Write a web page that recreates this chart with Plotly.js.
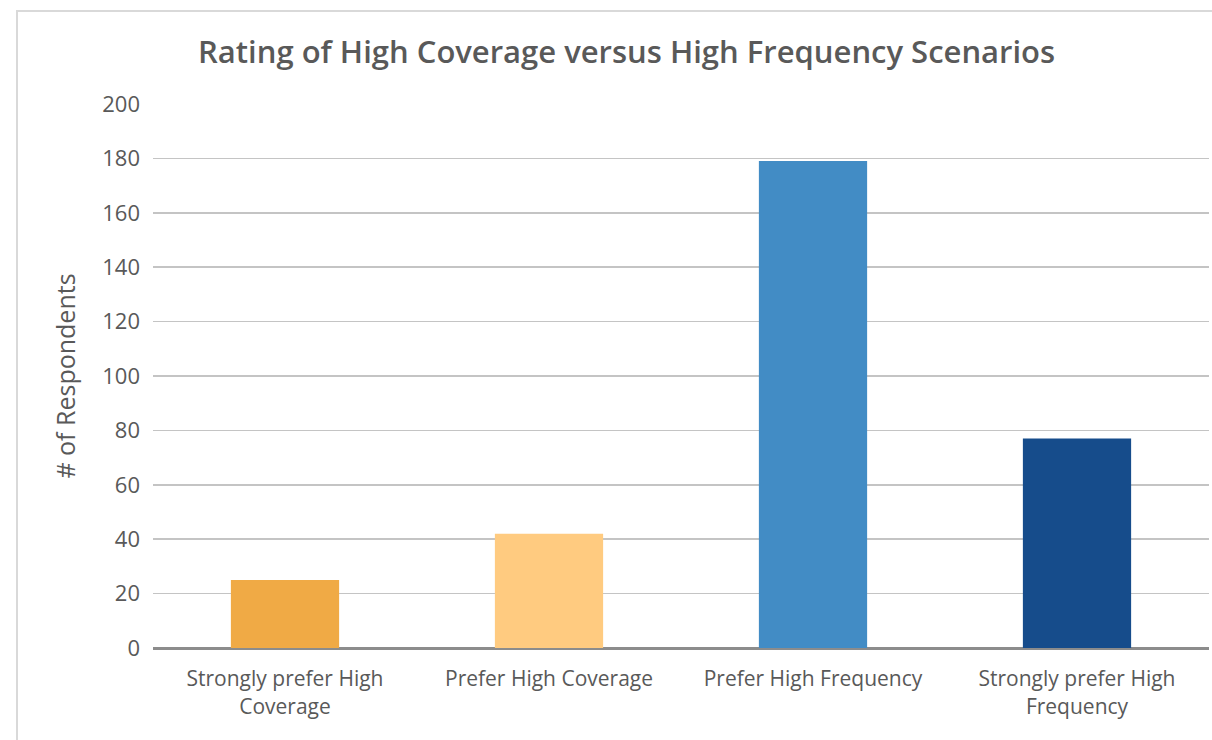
<!DOCTYPE html>
<html>
<head>
<meta charset="utf-8">
<script src="https://cdn.plot.ly/plotly-3.0.1.min.js"></script>
<style>
  html, body { margin: 0; padding: 0; overflow: hidden; background: #ffffff; }
  #chart { position: absolute; left: 0; top: 0; width: 1212px; height: 740px; }
  #frame { position: absolute; left: 16px; top: 10px; width: 1400px; height: 900px;
           border: 2px solid #d9d9d9; pointer-events: none; }
</style>
</head>
<body>
<div id="chart"></div>
<div id="frame"></div>
<script>
const categories = [
  "Strongly prefer High Coverage",
  "Prefer High Coverage",
  "Prefer High Frequency",
  "Strongly prefer High Frequency"
];
const tickLabels = [
  "Strongly prefer High<br>Coverage",
  "Prefer High Coverage",
  "Prefer High Frequency",
  "Strongly prefer High<br>Frequency"
];
const respondents = [25, 42, 179, 77];
const barColors = ["#F0AA45", "#FFCB80", "#428CC5", "#164C8B"];
const chartTitle = "Rating of High Coverage versus High Frequency Scenarios";
const yTitle = "# of Respondents";

const font = "'Open Sans', Lato, sans-serif";

const trace = {
  type: "bar",
  x: categories,
  y: respondents,
  marker: { color: barColors, line: { width: 0 } },
  hoverinfo: "x+y"
};

const layout = {
  width: 1212,
  height: 740,
  margin: { l: 153, r: 3, t: 104, b: 92, pad: 0 },
  paper_bgcolor: "rgba(0,0,0,0)",
  plot_bgcolor: "#ffffff",
  bargap: 0.59,
  showlegend: false,
  title: {
    text: chartTitle,
    font: { family: font, size: 31, color: "#595959", weight: 600 },
    x: 0.517, xanchor: "center", xref: "container",
    y: 0.93, yanchor: "middle", yref: "container"
  },
  xaxis: {
    tickmode: "array",
    tickvals: categories,
    ticktext: tickLabels,
    tickfont: { family: font, size: 21, color: "#595959" },
    ticks: "",
    ticklabelstandoff: 11,
    showline: true,
    linecolor: "#8c8c8c",
    linewidth: 2,
    showgrid: false,
    zeroline: false,
    fixedrange: true
  },
  yaxis: {
    range: [0, 200],
    dtick: 20,
    tick0: 0,
    tickfont: { family: font, size: 22, color: "#595959" },
    ticks: "",
    ticklabelstandoff: 12,
    showgrid: true,
    gridcolor: "#c4c4c4",
    gridwidth: 1.6,
    zeroline: true,
    zerolinecolor: "#8c8c8c",
    zerolinewidth: 2,
    showline: false,
    automargin: true,
    title: {
      text: yTitle,
      font: { family: font, size: 25, color: "#595959" },
      standoff: 19
    },
    fixedrange: true
  }
};

Plotly.newPlot("chart", [trace], layout, { displayModeBar: false, staticPlot: true });
</script>
</body>
</html>
